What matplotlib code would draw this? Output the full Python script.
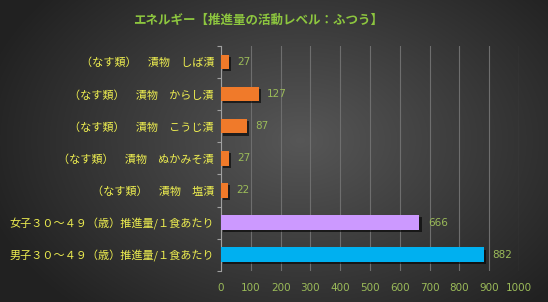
import matplotlib.pyplot as plt
import matplotlib.patheffects as pe
import numpy as np

plt.rcParams['font.family'] = ['Noto Sans CJK JP', 'DejaVu Sans']

title = 'エネルギー【推進量の活動レベル：ふつう】'
labels = ['（なす類）　漬物　しば漬',
          '（なす類）　漬物　からし漬',
          '（なす類）　漬物　こうじ漬',
          '（なす類）　漬物　ぬかみそ漬',
          '（なす類）　漬物　塩漬',
          '女子３０～４９（歳）推進量/１食あたり',
          '男子３０～４９（歳）推進量/１食あたり']
values = [27, 127, 87, 27, 22, 666, 882]
colors = ['#f07a2a'] * 5 + ['#cc99ff', '#00b0f0']
xticks = list(range(0, 1001, 100))

fig = plt.figure(figsize=(5.48, 3.02), dpi=100)

# radial gradient background
bg = fig.add_axes([0, 0, 1, 1], zorder=-10)
yy, xx = np.mgrid[0:302, 0:548]
r = np.sqrt(((xx - 300) / 330.0) ** 2 + ((yy - 140) / 230.0) ** 2)
r = np.clip(r, 0, 1)
shade = 0.34 - 0.21 * r
bg.imshow(np.dstack([shade] * 3), aspect='auto', extent=[0, 1, 0, 1])
bg.axis('off')

ax = fig.add_axes([221 / 548, 1 - 270.7 / 302, 298 / 548, 224.7 / 302])
ax.patch.set_alpha(0)

y = np.arange(len(values))
bars = ax.barh(y, values, height=0.45, color=colors, zorder=3,
               path_effects=[pe.SimplePatchShadow(offset=(1.5, -1.5), shadow_rgbFace='black', alpha=0.6),
                             pe.Normal()])
ax.set_ylim(len(values) - 0.5, -0.5)
ax.set_xlim(0, 1000)

for yi, v in zip(y, values):
    ax.text(v + 28, yi, str(v), va='center', ha='left', color='#9bbb59', fontsize=7.5,
            family=['DejaVu Sans'])

ax.set_yticks(y)
ax.set_yticklabels(labels, color='#eeee50', fontsize=8)
ax.tick_params(axis='y', which='major', length=0, pad=5)
ax.set_yticks(np.arange(len(values) + 1) - 0.5, minor=True)
ax.tick_params(axis='y', which='minor', length=3, color='#a0a0a0', width=0.8)

ax.set_xticks(xticks)
ax.set_xticklabels([str(t) for t in xticks], color='#9bbb59', fontsize=7.5, family=['DejaVu Sans'])
ax.tick_params(axis='x', length=0, pad=9)
ax.grid(axis='x', color='#6e6e6e', linewidth=0.8, zorder=0)

for s in ['top', 'right', 'bottom']:
    ax.spines[s].set_visible(False)
ax.spines['left'].set_color('#a0a0a0')
ax.spines['left'].set_linewidth(0.8)

fig.text(258 / 548, 1 - 20 / 302, title, ha='center', va='center', color='#8dc63f',
         fontsize=9, fontweight='bold')

fig.savefig('out.png', dpi=100)
